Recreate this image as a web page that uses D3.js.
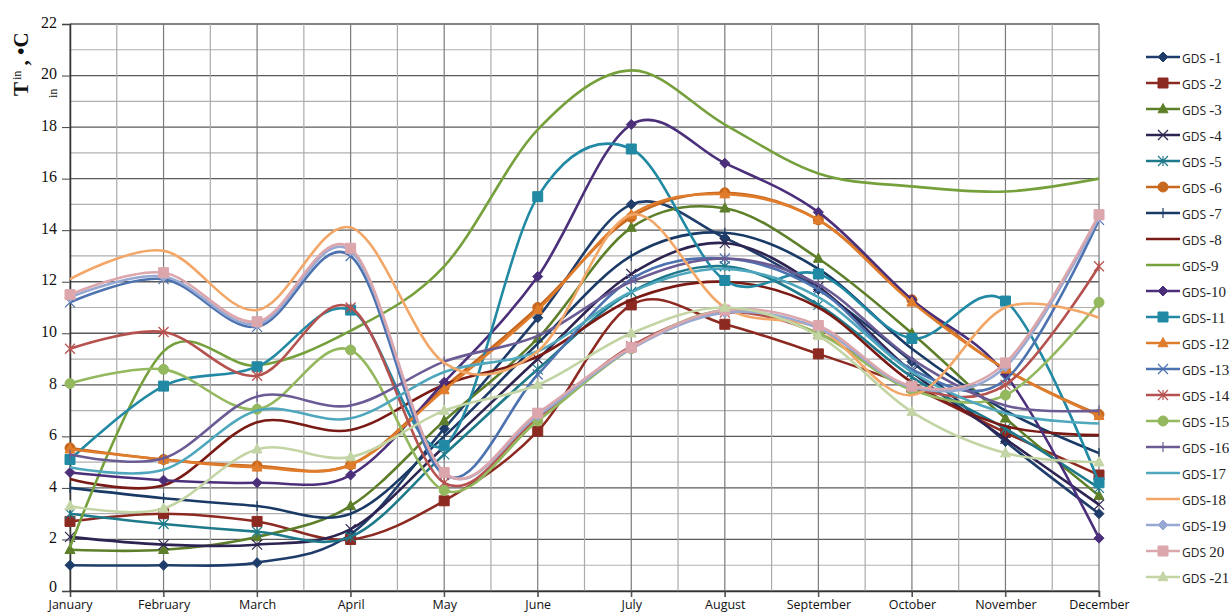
<!DOCTYPE html>
<html>
<head>
<meta charset="utf-8">
<script src="https://cdn.jsdelivr.net/npm/d3@7"></script>
<style>
    html, body { margin: 0; padding: 0; background: #fff; }
    svg { display: block; }
</style>
</head>
<body>
<div id="chart"></div>
<script>
(function () {
    "use strict";

    const months = ["January", "February", "March", "April", "May", "June",
        "July", "August", "September", "October", "November", "December"];
    const yTicks = [0, 2, 4, 6, 8, 10, 12, 14, 16, 18, 20, 22];

    const names = ["GDS -1", "GDS -2", "GDS -3", "GDS -4", "GDS -5", "GDS -6", "GDS -7",
        "GDS -8", "GDS-9", "GDS-10", "GDS-11", "GDS -12", "GDS -13", "GDS -14",
        "GDS -15", "GDS -16", "GDS-17", "GDS-18", "GDS-19", "GDS 20", "GDS -21"];

    const gds1 = [1.0, 1.0, 1.1, 2.2, 6.3, 10.6, 15.0, 13.7, 11.7, 8.9, 5.8, 3.0];
    const gds2 = [2.7, 3.0, 2.7, 2.0, 3.5, 6.2, 11.1, 10.35, 9.2, 7.9, 6.15, 4.5];
    const gds3 = [1.6, 1.6, 2.1, 3.3, 6.6, 9.8, 14.1, 14.85, 12.9, 10.0, 6.7, 3.7];
    const gds4 = [2.1, 1.8, 1.8, 2.4, 5.6, 9.0, 12.3, 13.5, 11.8, 8.5, 5.9, 3.35];
    const gds5 = [3.0, 2.6, 2.3, 2.1, 5.3, 8.6, 11.6, 12.6, 11.1, 8.3, 6.3, 4.0];
    const gds6 = [5.55, 5.1, 4.85, 4.9, 7.9, 11.0, 14.5, 15.45, 14.4, 11.3, 8.6, 6.85];
    const gds7 = [4.0, 3.6, 3.3, 3.0, 6.0, 9.6, 13.0, 13.9, 12.5, 9.4, 7.0, 5.35];
    const gds8 = [4.35, 4.1, 6.55, 6.25, 8.0, 9.1, 11.3, 12.0, 11.0, 8.1, 6.4, 6.05];
    const gds9 = [1.7, 9.3, 8.75, 10.1, 12.6, 17.9, 20.2, 18.1, 16.2, 15.7, 15.5, 16.0];
    const gds10 = [4.6, 4.3, 4.2, 4.5, 8.1, 12.2, 18.1, 16.6, 14.7, 11.3, 8.4, 2.05];
    const gds11 = [5.1, 7.95, 8.7, 10.9, 5.65, 15.3, 17.15, 12.05, 12.3, 9.8, 11.25, 4.2];
    const gds12 = [5.5, 5.1, 4.8, 4.9, 7.8, 10.9, 14.6, 15.4, 14.4, 11.2, 8.6, 6.8];
    const gds13 = [11.2, 12.1, 10.25, 13.0, 4.5, 8.4, 12.1, 12.9, 11.7, 8.6, 8.2, 14.4];
    const gds14 = [9.4, 10.05, 8.35, 11.0, 4.2, 6.7, 9.5, 10.8, 10.0, 7.9, 8.0, 12.6];
    const gds15 = [8.05, 8.6, 7.05, 9.35, 3.9, 6.6, 9.4, 10.9, 10.0, 7.8, 7.6, 11.2];
    const gds16 = [5.3, 5.15, 7.55, 7.2, 8.9, 9.9, 12.0, 12.9, 11.9, 9.0, 7.2, 7.0];
    const gds17 = [4.8, 4.7, 7.0, 6.7, 8.5, 9.3, 11.6, 12.5, 11.4, 8.5, 6.9, 6.5];
    const gds18 = [12.1, 13.2, 10.9, 14.1, 8.85, 9.3, 14.6, 11.0, 10.2, 7.6, 11.0, 10.6];
    const gds19 = [11.4, 12.2, 10.35, 13.2, 4.6, 6.8, 9.4, 10.8, 10.2, 7.9, 8.7, 14.5];
    const gds20 = [11.5, 12.35, 10.45, 13.3, 4.6, 6.9, 9.45, 10.9, 10.3, 7.95, 8.85, 14.6];
    const gds21 = [3.3, 3.2, 5.5, 5.2, 7.0, 8.0, 10.0, 11.0, 9.9, 6.95, 5.35, 5.0];

    const values = [gds1, gds2, gds3, gds4, gds5, gds6, gds7, gds8, gds9, gds10, gds11,
        gds12, gds13, gds14, gds15, gds16, gds17, gds18, gds19, gds20, gds21];

    const colors = ["#1f3d6b", "#8c2a22", "#5e7f2a", "#2d2452", "#1e7a8a", "#c8681e", "#1a3a66",
        "#7a1a14", "#76a03c", "#4b2f7a", "#2189a3", "#e07d2c", "#4d72b0", "#b5524f",
        "#93b85e", "#6b5b94", "#4fa7bd", "#f2a768", "#97a9d2", "#dba6ac", "#c3d5a5"];

    const markers = ["diamond", "square", "triangle", "cross", "star", "circle", "plus",
        "none", "none", "diamond", "square", "triangle", "cross", "star",
        "circle", "plus", "none", "none", "diamond", "square", "triangle"];

    const series = names.map((name, i) => ({
        name: name,
        values: values[i],
        color: colors[i],
        marker: markers[i]
    }));

    const width = 1231;
    const height = 613;
    const margin = { left: 70, right: 132, top: 24, bottom: 22 };

    const svg = d3.select("#chart").append("svg")
        .attr("width", width)
        .attr("height", height);

    const x = d3.scalePoint()
        .domain(months)
        .range([margin.left, width - margin.right]);

    const y = d3.scaleLinear()
        .domain([0, 22])
        .range([height - margin.bottom, margin.top]);

    const step = x.step();

    // grid
    const grid = svg.append("g");
    d3.range(0, 22.5, 1).forEach((v) => {
        grid.append("line")
            .attr("x1", margin.left)
            .attr("x2", width - margin.right)
            .attr("y1", y(v))
            .attr("y2", y(v))
            .attr("stroke", v % 2 === 0 ? "#5a5a5a" : "#b0b0b0")
            .attr("stroke-width", v % 2 === 0 ? 1.3 : 1.2);
    });
    months.forEach((m, i) => {
        grid.append("line")
            .attr("x1", x(m))
            .attr("x2", x(m))
            .attr("y1", y(22))
            .attr("y2", y(0) + (i === 0 ? 0 : 6))
            .attr("stroke", "#7a7a7a")
            .attr("stroke-width", 1.2);
        if (i < months.length - 1) {
            grid.append("line")
                .attr("x1", x(m) + step / 2)
                .attr("x2", x(m) + step / 2)
                .attr("y1", y(22))
                .attr("y2", y(0))
                .attr("stroke", "#ababab")
                .attr("stroke-width", 1.2);
        }
    });

    // axes
    const yAxis = svg.append("g")
        .attr("transform", `translate(${margin.left},0)`)
        .call(d3.axisLeft(y).tickValues(yTicks).tickSize(8).tickPadding(5));
    yAxis.select(".domain").attr("stroke", "#333").attr("stroke-width", 1.5);
    yAxis.selectAll(".tick line").attr("stroke", "#444");
    yAxis.selectAll(".tick text")
        .attr("font-family", "Liberation Serif, Times New Roman, serif")
        .attr("font-size", 16)
        .attr("fill", "#111")
        .attr("dy", d => d === 0 ? "0.02em" : "0.2em");

    const xAxis = svg.append("g")
        .attr("transform", `translate(0,${y(0)})`)
        .call(d3.axisBottom(x).tickSize(6).tickPadding(2));
    xAxis.select(".domain").attr("stroke", "#333").attr("stroke-width", 1.5);
    xAxis.selectAll(".tick line").attr("stroke", "#444");
    xAxis.selectAll(".tick text")
        .attr("font-family", "Open Sans, DejaVu Sans, sans-serif")
        .attr("font-size", 12.5)
        .attr("fill", "#111")
        .attr("dy", "0.8em");

    // y label: T with "in" above and below, then ", •C"
    const label = svg.append("text")
        .attr("transform", "translate(28,96) rotate(-90)")
        .attr("font-family", "Liberation Serif, Times New Roman, serif")
        .attr("font-weight", "bold")
        .attr("font-size", 21)
        .attr("fill", "#111");
    label.append("tspan").text("T");
    label.append("tspan").attr("font-size", 12).attr("font-weight", "normal")
        .attr("dx", 2).attr("dy", -7).text("in");
    label.append("tspan").attr("dy", 7).text(" , \u2022C");

    svg.append("text")
        .attr("transform", "translate(57,98) rotate(-90)")
        .attr("font-family", "Liberation Serif, Times New Roman, serif")
        .attr("font-size", 12)
        .attr("fill", "#111")
        .text("in");

    // markers
    function markerPath(type, s) {
        switch (type) {
            case "diamond":
                return `M0,${-s}L${s},0L0,${s}L${-s},0Z`;
            case "square":
                return `M${-s},${-s}H${s}V${s}H${-s}Z`;
            case "triangle":
                return `M0,${-s * 1.1}L${s},${s * 0.75}H${-s}Z`;
            case "circle":
                return d3.symbol(d3.symbolCircle, Math.PI * s * s)();
            case "cross":
                return `M${-s},${-s}L${s},${s}M${-s},${s}L${s},${-s}`;
            case "star":
                return `M${-s},${-s}L${s},${s}M${-s},${s}L${s},${-s}M0,${-s}V${s}`;
            case "plus":
                return `M0,${-s}V${s}`;
            default:
                return null;
        }
    }
    const strokeOnly = { cross: true, star: true, plus: true };

    const line = d3.line()
        .x((d, i) => x(months[i]))
        .y(d => y(d))
        .curve(d3.curveCardinal.tension(0));

    const plot = svg.append("g");
    series.forEach((s) => {
        const g = plot.append("g");
        g.append("path")
            .attr("d", line(s.values))
            .attr("fill", "none")
            .attr("stroke", s.color)
            .attr("stroke-width", 2.6);
        if (s.marker !== "none") {
            g.selectAll("path.m")
                .data(s.values)
                .join("path")
                .attr("class", "m")
                .attr("transform", (d, i) => `translate(${x(months[i])},${y(d)})`)
                .attr("d", markerPath(s.marker, 5))
                .attr("fill", strokeOnly[s.marker] ? "none" : s.color)
                .attr("stroke", s.color)
                .attr("stroke-width", strokeOnly[s.marker] ? 1.2 : 1);
        }
    });

    // legend
    const legend = svg.append("g")
        .attr("transform", "translate(1146,57)");
    series.forEach((s, i) => {
        const g = legend.append("g").attr("transform", `translate(0,${i * 26})`);
        g.append("line")
            .attr("x1", 0).attr("x2", 34)
            .attr("stroke", s.color)
            .attr("stroke-width", 2.6);
        if (s.marker !== "none") {
            g.append("path")
                .attr("transform", "translate(17,0)")
                .attr("d", markerPath(s.marker, 5))
                .attr("fill", strokeOnly[s.marker] ? "none" : s.color)
                .attr("stroke", s.color)
                .attr("stroke-width", strokeOnly[s.marker] ? 1.2 : 1);
        }
        const m = s.name.match(/^GDS(\s*)(.*)$/);
        const t = g.append("text")
            .attr("x", 36)
            .attr("dy", "0.35em")
            .attr("fill", "#222");
        t.append("tspan")
            .attr("font-family", "Open Sans, DejaVu Sans, sans-serif")
            .attr("font-size", 12)
            .text("GDS" + m[1]);
        t.append("tspan")
            .attr("font-family", "Liberation Serif, Times New Roman, serif")
            .attr("font-size", 15)
            .text(m[2]);
    });
}());
</script>
</body>
</html>
